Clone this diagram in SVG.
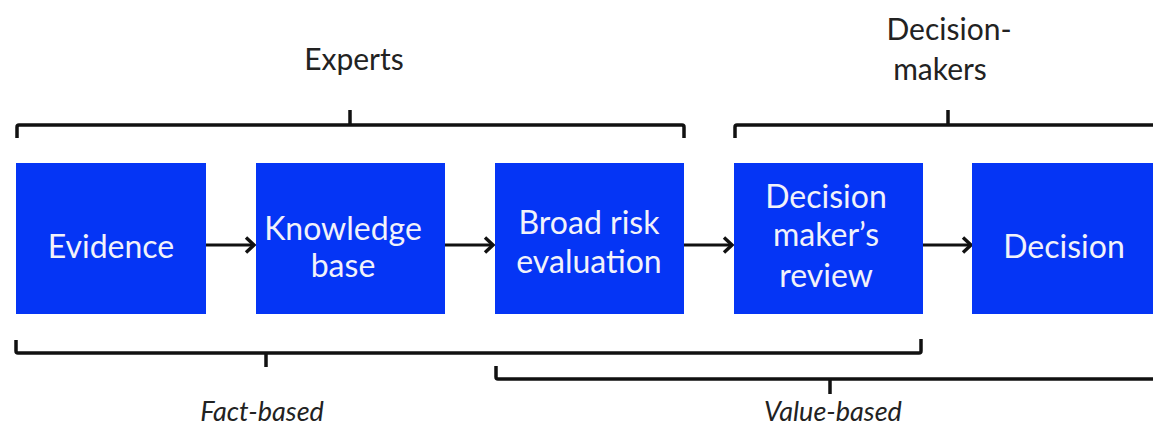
<svg xmlns="http://www.w3.org/2000/svg" width="1153" height="430" viewBox="0 0 1153 430">
<style>
.box{fill:#0535F5}
.bt{font-family:Lato,"Open Sans",sans-serif;font-size:32px;fill:#F2F2FA;text-anchor:middle}
.lb{font-family:Lato,"Open Sans",sans-serif;font-size:30px;fill:#222;text-anchor:middle}
.it{font-style:italic;font-size:27px}
.br{fill:none;stroke:#111;stroke-width:3.5;stroke-linejoin:round;stroke-linecap:butt}
.ar{fill:none;stroke:#111;stroke-width:3}
</style>
<defs>
<marker id="ah" viewBox="0 0 12 18" refX="10" refY="9" markerWidth="12" markerHeight="18" markerUnits="userSpaceOnUse" orient="auto">
<path d="M2,1.5 L10,9 L2,16.5" fill="none" stroke="#111" stroke-width="3.4"/>
</marker>
</defs>
<rect width="1153" height="430" fill="#fff"/>
<g id="labels">
<text class="lb" x="354" y="70">Experts</text>
<text class="lb" x="949" y="40">Decision-</text>
<text class="lb" x="940" y="80">makers</text>
<text class="lb it" x="262" y="421">Fact-based</text>
<text class="lb it" x="833" y="421">Value-based</text>
</g>
<g id="brackets">
<path class="br" d="M17,138 L17,127 Q17,125 19,125 L682,125 Q684,125 684,127 L684,138"/>
<path class="br" d="M350,125 L350,110"/>
<path class="br" d="M735,138 L735,127 Q735,125 737,125 L1153,125"/>
<path class="br" d="M948,125 L948,110"/>
<path class="br" d="M16,340 L16,351 Q16,353 18,353 L919,353 Q921,353 921,351 L921,339"/>
<path class="br" d="M266,353 L266,367"/>
<path class="br" d="M496,366 L496,377 Q496,379 498,379 L1153,379"/>
<path class="br" d="M830,379 L830,394"/>
</g>
<g id="connectors">
<line class="ar" x1="206" y1="245" x2="254" y2="245" marker-end="url(#ah)"/>
<line class="ar" x1="445" y1="245" x2="493" y2="245" marker-end="url(#ah)"/>
<line class="ar" x1="684" y1="245" x2="732" y2="245" marker-end="url(#ah)"/>
<line class="ar" x1="923" y1="245" x2="971" y2="245" marker-end="url(#ah)"/>
</g>
<g id="evidence">
<rect class="box" x="16" y="163" width="190" height="151"/>
<text class="bt" x="111" y="258">Evidence</text>
</g>
<g id="knowledge">
<rect class="box" x="256" y="163" width="189" height="151"/>
<text class="bt" x="343" y="240">Knowledge</text>
<text class="bt" x="343" y="277">base</text>
</g>
<g id="broad">
<rect class="box" x="495" y="163" width="189" height="151"/>
<text class="bt" x="589" y="234">Broad risk</text>
<text class="bt" x="589" y="273">evaluation</text>
</g>
<g id="review">
<rect class="box" x="734" y="163" width="189" height="151"/>
<text class="bt" x="826" y="208">Decision</text>
<text class="bt" x="826" y="246">maker’s</text>
<text class="bt" x="826" y="287">review</text>
</g>
<g id="decision">
<rect class="box" x="972" y="163" width="181" height="151"/>
<text class="bt" x="1064" y="258">Decision</text>
</g>
</svg>
